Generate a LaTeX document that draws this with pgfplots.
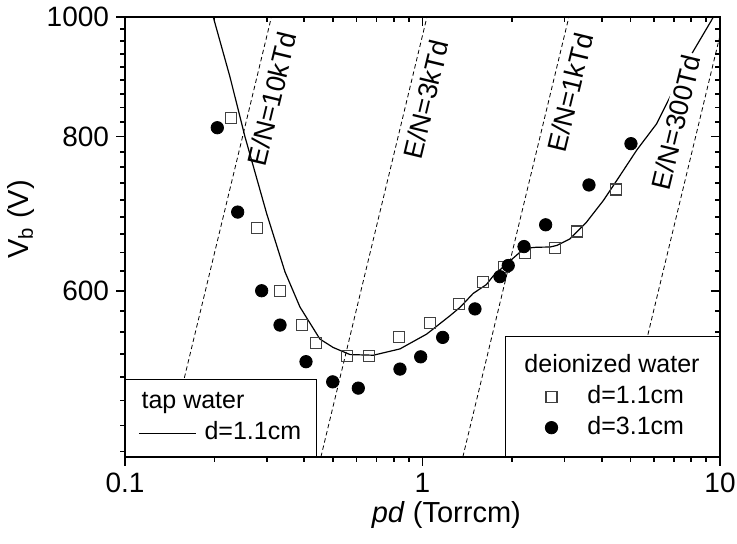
\documentclass[border=0pt]{standalone}
\usepackage{fontspec}
\setmainfont{Liberation Sans}
\usepackage{pgfplots}
\pgfplotsset{compat=1.18}

\tikzset{enlabel/.style={rotate=76.4, font=\fontsize{13.5}{16}\selectfont, inner sep=1pt}}
\pgfplotsset{markleg/.style={legend image code/.code={
  \path[draw=none, fill=none] (0pt,0pt) -- (28pt,0pt);
  \path[##1, only marks] plot coordinates {(14pt,0pt)};}}}

\begin{document}
\begin{tikzpicture}
\useasboundingbox (-62.5pt,-43pt) rectangle (306pt,228.5pt);

% tap water fit, E/N lines, lower-left ticks
\begin{axis}[
  xmode=log, ymode=log,
  scale only axis, width=297.5pt, height=220pt,
  xmin=0.1, xmax=10, ymin=440, ymax=1000,
  xtick={0.1,1,10}, ytick={600,800,1000},
  minor xtick={0.2,0.3,0.4,0.5,0.6,0.7,0.8,0.9,2,3,4,5,6,7,8,9},
  minor ytick={444.44,466.67,488.89,511.11,533.33,555.56,577.78,622.22,644.44,666.67,688.89,711.11,733.33,755.56,777.78,822.22,844.44,866.67,888.89,911.11,933.33,955.56,977.78},
  major tick length=4.5pt, minor tick length=2.5pt,
  every tick/.append style={black, line width=0.9pt},
  axis line style={line width=1.3pt},
  tick align=outside, xtick pos=left, ytick pos=left,
  xticklabels={0.1,1,10}, yticklabels={600,800,1000},
  tick label style={font=\fontsize{14}{16}\selectfont},
  xlabel={\textit{pd} (Torrcm)}, ylabel={V\textsubscript{b} (V)},
  label style={font=\fontsize{14.5}{17}\selectfont},
  xlabel style={at={(axis description cs:0.54,-0.15)}, anchor=base},
  ylabel style={at={(axis description cs:-0.163,0.54)}, anchor=base},
  legend style={at={(0,0)}, anchor=south west, draw=black, fill=white,
    font=\fontsize{12.5}{15}\selectfont, inner xsep=6.5pt, inner ysep=4.4pt,
    row sep=1pt, column sep=3pt,
    nodes={inner sep=1pt, text height=9.5pt, text depth=3pt}},
  legend cell align=left,
  legend image code/.code={\draw[#1] (0pt,0pt) -- (28.5pt,0pt);},
]
\addlegendimage{empty legend}
\addlegendentry{\hspace*{-31.5pt}tap water}

\addplot[forget plot, black, line width=0.4pt, dash pattern=on 2.2pt off 1.5pt]
  coordinates {(0.1366,440) (0.3106,1000)};
\addplot[forget plot, black, line width=0.4pt, dash pattern=on 2.2pt off 1.5pt]
  coordinates {(0.4555,440) (1.0352,1000)};
\addplot[forget plot, black, line width=0.4pt, dash pattern=on 2.2pt off 1.5pt]
  coordinates {(1.3665,440) (3.1056,1000)};
\addplot[forget plot, black, line width=0.4pt, dash pattern=on 2.2pt off 1.5pt]
  coordinates {(4.555,440) (10,966)};

\addplot[black, line width=0.6pt] coordinates {
  (0.198,1000) (0.2254,894) (0.253,800) (0.2995,692.8) (0.345,621.5)
  (0.3875,582) (0.452,548.3) (0.501,539.7) (0.571,532.6) (0.684,532)
  (0.84,538.3) (1.033,553.4) (1.237,572.7) (1.337,581.7) (1.48,597)
  (1.64,607) (1.73,617) (1.92,631) (2.127,644.8) (2.21,649.5)
  (2.42,650.8) (2.68,651) (2.83,653) (3.13,661) (3.56,682)
  (4.053,710) (4.613,744) (5.248,780) (6.127,819.5) (7.93,928.5)
  (9.38,994.5) (9.55,1003)
};
\addlegendentry{d=1.1cm}

\node[enlabel] at (axis cs:0.312,858) {E/N=10kTd};
\node[enlabel] at (axis cs:1.027,858) {E/N=3kTd};
\node[enlabel] at (axis cs:3.132,869) {E/N=1kTd};
\node[enlabel, fill=white] at (axis cs:7.11,822) {E/N=300Td};
\end{axis}

% deionized water data, upper-right ticks
\begin{axis}[
  xmode=log, ymode=log,
  scale only axis, width=297.5pt, height=220pt,
  xmin=0.1, xmax=10, ymin=440, ymax=1000,
  xtick={0.1,1,10}, ytick={600,800,1000},
  minor xtick={0.2,0.3,0.4,0.5,0.6,0.7,0.8,0.9,2,3,4,5,6,7,8,9},
  minor ytick={444.44,466.67,488.89,511.11,533.33,555.56,577.78,622.22,644.44,666.67,688.89,711.11,733.33,755.56,777.78,822.22,844.44,866.67,888.89,911.11,933.33,955.56,977.78},
  major tick length=4.5pt, minor tick length=2.5pt,
  every tick/.append style={black, line width=0.9pt},
  axis line style={line width=1.3pt},
  tick align=inside, xtick pos=right, ytick pos=right,
  xticklabels={}, yticklabels={},
  legend style={at={(1,0)}, anchor=south east, draw=black, fill=white,
    font=\fontsize{12.5}{15}\selectfont, inner xsep=9pt, inner ysep=7.2pt,
    row sep=1pt, column sep=3pt,
    nodes={inner sep=1pt, text height=9.5pt, text depth=3pt}},
  legend cell align=left,
]
\addlegendimage{empty legend}
\addlegendentry{\hspace*{-31.5pt}deionized water}

\addplot[only marks, mark=square, mark size=2.75pt, draw=black!75, line width=0.55pt, markleg]
  coordinates {
  (0.2266,827.7) (0.2784,674.9) (0.332,600) (0.3926,563) (0.4385,543.8)
  (0.556,530.8) (0.6627,531) (0.836,550.7) (1.06,564.9) (1.33,585.4)
  (1.602,610.3) (1.884,627) (2.211,643.5) (2.791,649.8) (3.315,670.2)
  (4.461,724.8)
};
\addlegendentry{d=1.1cm}

\addplot[only marks, mark=*, mark size=3.1pt, black, markleg]
  coordinates {
  (0.2043,813.3) (0.2392,694.9) (0.288,600) (0.332,562.8) (0.4059,525.6)
  (0.4991,506.2) (0.6085,500.3) (0.840,518.4) (0.986,530.4) (1.169,550)
  (1.501,580) (1.821,616) (1.942,628.9) (2.194,651.6) (2.594,678.6)
  (3.628,731) (5.02,789.6)
};
\addlegendentry{d=3.1cm}
\end{axis}
\end{tikzpicture}
\end{document}
